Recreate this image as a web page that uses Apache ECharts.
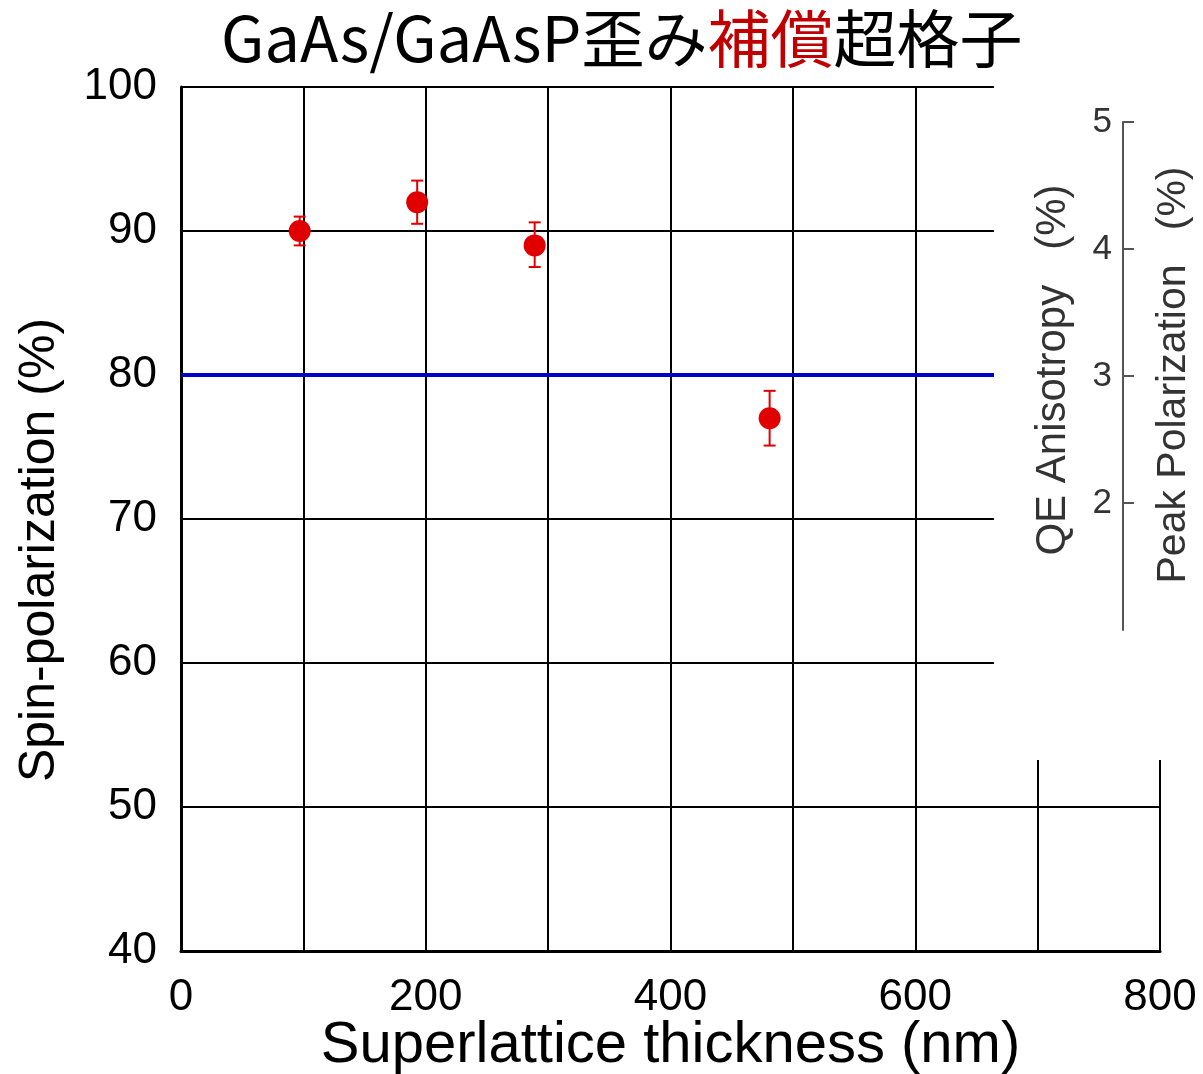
<!doctype html>
<html>
<head>
<meta charset="utf-8">
<title>GaAs/GaAsP歪み補償超格子</title>
<script src="https://cdn.jsdelivr.net/npm/echarts@6/dist/echarts.min.js"></script>
<style>
html,body{margin:0;padding:0;background:#fff;}
#main{width:1203px;height:1074px;}
</style>
</head>
<body>
<div id="main"></div>
<script>
// 超格子の厚さ (nm) とスピン偏極度 (%)
var thickness = [97, 193, 289, 481];
var polarization = [90, 92, 89, 77];
var errLow = [89, 90.5, 87.5, 75.1];
var errHigh = [91, 93.5, 90.6, 78.9];
var targetLevel = 80;
var rightTicks = [2, 3, 4, 5];

var chart = echarts.init(document.getElementById('main'));
var font = '"Liberation Sans", Arial, sans-serif';

var points = [];
var bars = [];
for (var i = 0; i < thickness.length; i++) {
  points.push([thickness[i], polarization[i]]);
  bars.push([thickness[i], errLow[i], errHigh[i]]);
}

function errorBar(params, api) {
  var x = api.value(0);
  var lo = api.coord([x, api.value(1)]);
  var hi = api.coord([x, api.value(2)]);
  var w = 6;
  var st = {stroke: '#e00000', lineWidth: 2};
  return {
    type: 'group',
    children: [
      {type: 'line', shape: {x1: lo[0], y1: lo[1], x2: hi[0], y2: hi[1]}, style: st},
      {type: 'line', shape: {x1: lo[0] - w, y1: lo[1], x2: lo[0] + w, y2: lo[1]}, style: st},
      {type: 'line', shape: {x1: hi[0] - w, y1: hi[1], x2: hi[0] + w, y2: hi[1]}, style: st}
    ]
  };
}

chart.setOption({
  animation: false,
  backgroundColor: '#fff',
  title: {
    left: 216,
    top: 2,
    text: '{a|GaAs/GaAsP歪み}{b|補償}{a|超格子}',
    textStyle: {
      rich: {
        a: {fontFamily: '"Noto Sans CJK JP"', fontWeight: 'normal', fontSize: 63, color: '#000'},
        b: {fontFamily: '"Noto Sans CJK JP"', fontWeight: 'normal', fontSize: 63, color: '#c00000'}
      }
    }
  },
  grid: [
    {left: 181, right: 43, top: 87, bottom: 123, outerBoundsMode: 'none', containLabel: false},
    {left: 1123, top: 122, height: 508, width: 10, outerBoundsMode: 'none', containLabel: false}
  ],
  xAxis: [
    {
      type: 'value', gridIndex: 0, min: 0, max: 800, interval: 100,
      axisLine: {onZero: false, lineStyle: {color: '#000', width: 3}},
      axisTick: {show: false},
      axisLabel: {
        margin: 25, fontSize: 44, color: '#000', fontFamily: font,
        formatter: function (v) { return v % 200 === 0 ? String(v) : ''; }
      },
      splitLine: {show: true, lineStyle: {color: '#000', width: 2}},
      name: 'Superlattice thickness (nm)',
      nameLocation: 'middle',
      nameGap: 66,
      nameMoveOverlap: false,
      nameTextStyle: {fontSize: 58, color: '#000', fontFamily: font}
    },
    {type: 'value', gridIndex: 1, show: false, min: 0, max: 1}
  ],
  yAxis: [
    {
      type: 'value', gridIndex: 0, min: 40, max: 100, interval: 10,
      axisLine: {show: true, lineStyle: {color: '#000', width: 3}},
      axisTick: {show: false},
      axisLabel: {margin: 24, fontSize: 44, color: '#000', fontFamily: font},
      splitLine: {show: true, lineStyle: {color: '#000', width: 2}}
    },
    {
      type: 'value', gridIndex: 1, min: 1, max: 5, interval: 1, z: 110,
      axisLine: {show: true, lineStyle: {color: '#555', width: 2}},
      axisTick: {show: true, inside: true, length: 11, customValues: rightTicks, lineStyle: {color: '#555', width: 2}},
      axisLabel: {margin: 11, fontSize: 35, color: '#333', fontFamily: font, customValues: rightTicks},
      splitLine: {show: false}
    }
  ],
  graphic: {
    elements: [
      {type: 'rect', z: 100, shape: {x: 994, y: 72, width: 209, height: 688}, style: {fill: '#fff'}},
      {type: 'text', z: 110, x: 1053, y: 370, rotation: Math.PI / 2,
        style: {text: 'QE Anisotropy   (%)', fontSize: 42, fontFamily: font, fill: '#333', align: 'center', verticalAlign: 'middle'}},
      {type: 'text', z: 110, x: 1174, y: 375, rotation: Math.PI / 2,
        style: {text: 'Peak Polarization   (%)', fontSize: 41, fontFamily: font, fill: '#333', align: 'center', verticalAlign: 'middle'}},
      {type: 'text', z: 110, x: 40, y: 550, rotation: Math.PI / 2,
        style: {text: 'Spin-polarization (%)', fontSize: 50, fontFamily: font, fill: '#000', align: 'center', verticalAlign: 'middle'}}
    ]
  },
  series: [
    {
      type: 'line', xAxisIndex: 0, yAxisIndex: 0, symbol: 'none',
      lineStyle: {color: '#0000cc', width: 4},
      data: [[0, targetLevel], [800, targetLevel]]
    },
    {
      type: 'custom', xAxisIndex: 0, yAxisIndex: 0, renderItem: errorBar,
      encode: {x: 0, y: [1, 2]}, data: bars, z: 3
    },
    {
      type: 'scatter', xAxisIndex: 0, yAxisIndex: 0, symbolSize: 22,
      itemStyle: {color: '#e00000', opacity: 1}, data: points, z: 4
    }
  ]
});
</script>
</body>
</html>
